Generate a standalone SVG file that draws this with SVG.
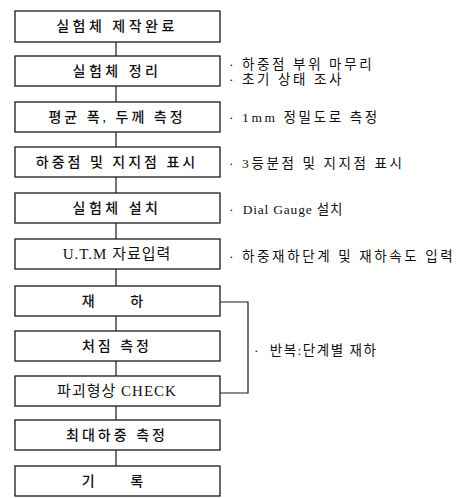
<svg xmlns="http://www.w3.org/2000/svg" width="476" height="498" viewBox="0 0 476 498">
<style>
.box{fill:#fff;stroke:#1a1a1a;stroke-width:1.3}
.bt{font-family:"Liberation Serif","Noto Sans CJK KR",serif;font-size:14px;font-weight:500;fill:#111;text-anchor:middle;dominant-baseline:central;letter-spacing:3px}
.lat{font-weight:400;letter-spacing:1px;font-size:15px}
.lt{font-family:"Liberation Serif","Noto Sans CJK KR",serif;font-size:13.5px;fill:#111;dominant-baseline:central;letter-spacing:2.6px}
.ln{stroke:#1a1a1a;stroke-width:1.2;fill:none}
</style>
<rect width="476" height="498" fill="#fff"/>
<g id="connectors">
<line class="ln" x1="116" y1="42" x2="116" y2="56"/>
<line class="ln" x1="116" y1="86" x2="116" y2="102"/>
<line class="ln" x1="116" y1="132" x2="116" y2="147"/>
<line class="ln" x1="116" y1="177" x2="116" y2="193"/>
<line class="ln" x1="116" y1="223" x2="116" y2="239"/>
<line class="ln" x1="116" y1="269" x2="116" y2="286"/>
<line class="ln" x1="116" y1="316" x2="116" y2="331"/>
<line class="ln" x1="116" y1="361" x2="116" y2="376"/>
<line class="ln" x1="116" y1="406" x2="116" y2="420"/>
<line class="ln" x1="116" y1="450" x2="116" y2="466"/>
<polyline class="ln" points="220,302 248,302 248,393 220,393"/>
</g>
<g id="n1"><rect class="box" x="15" y="11" width="205" height="31"/><text class="bt" x="117" y="26" style="letter-spacing:3.5px">실험체 제작완료</text></g>
<g id="n2"><rect class="box" x="15" y="56" width="205" height="30"/><text class="bt" x="117" y="71" style="letter-spacing:3.5px">실험체 정리</text></g>
<g id="n3"><rect class="box" x="15" y="102" width="205" height="30"/><text class="bt" x="117" y="117">평균 폭, 두께 측정</text></g>
<g id="n4"><rect class="box" x="15" y="147" width="205" height="30"/><text class="bt" x="117" y="162">하중점 및 지지점 표시</text></g>
<g id="n5"><rect class="box" x="15" y="193" width="205" height="30"/><text class="bt" x="117" y="208" style="letter-spacing:3.5px">실험체 설치</text></g>
<g id="n6"><rect class="box" x="15" y="239" width="205" height="30"/><text class="bt lat" x="117" y="254">U.T.M 자료입력</text></g>
<g id="n7"><rect class="box" x="15" y="286" width="205" height="30"/><text class="bt" x="114" y="301" xml:space="preserve">재     하</text></g>
<g id="n8"><rect class="box" x="15" y="331" width="205" height="30"/><text class="bt" x="117" y="346">처짐 측정</text></g>
<g id="n9"><rect class="box" x="15" y="376" width="205" height="30"/><text class="bt lat" x="117" y="391">파괴형상 CHECK</text></g>
<g id="n10"><rect class="box" x="15" y="420" width="205" height="30"/><text class="bt" x="117" y="435">최대하중 측정</text></g>
<g id="n11"><rect class="box" x="15" y="466" width="205" height="30"/><text class="bt" x="114" y="481" xml:space="preserve">기     록</text></g>
<g id="labels">
<text class="lt" x="229" y="64" xml:space="preserve">· 하중점 부위 마무리</text>
<text class="lt" x="229" y="79" xml:space="preserve">· 초기 상태 조사</text>
<text class="lt" x="229" y="117" xml:space="preserve">· 1mm 정밀도로 측정</text>
<text class="lt" x="229" y="163" xml:space="preserve">· 3등분점 및 지지점 표시</text>
<text class="lt" x="229" y="209" xml:space="preserve" style="letter-spacing:0.8px">·  Dial Gauge 설치</text>
<text class="lt" x="229" y="256" xml:space="preserve">· 하중재하단계 및 재하속도 입력</text>
<text class="lt" x="254" y="350" xml:space="preserve" style="letter-spacing:1.5px">·  반복:단계별 재하</text>
</g>
</svg>
